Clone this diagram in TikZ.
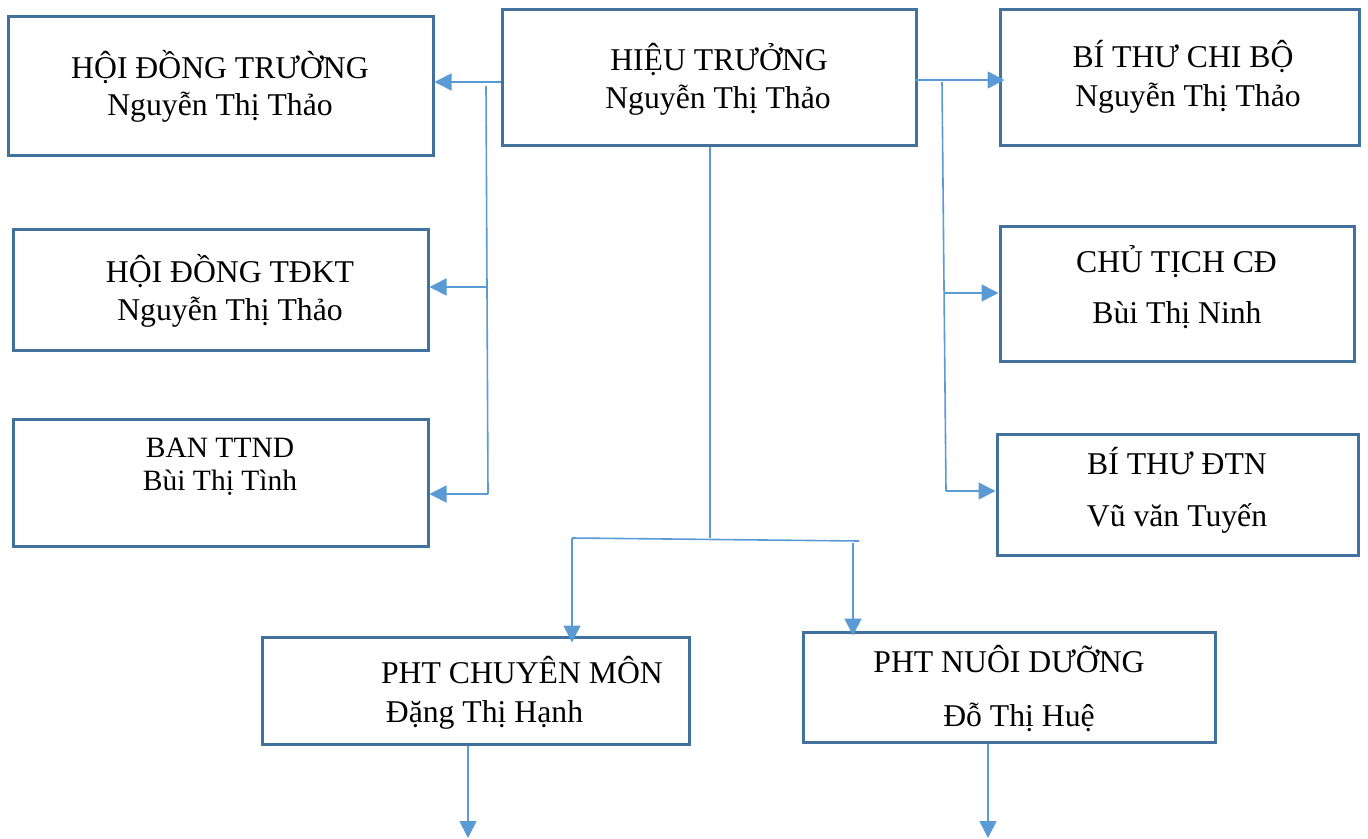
\documentclass[tikz,border=0pt]{standalone}
\usepackage{fontspec}
\setmainfont{Liberation Serif}
\usetikzlibrary{arrows.meta}
\definecolor{boxc}{HTML}{41719C}
\definecolor{linec}{HTML}{5B9BD5}
\tikzset{
  orgbox/.style={draw=boxc, line width=3pt, rectangle, inner sep=0pt, fill=white},
  txt/.style={anchor=base, inner sep=0pt, font=\fontsize{31.7}{38}\selectfont},
  smalltxt/.style={anchor=base, inner sep=0pt, font=\fontsize{29.5}{35}\selectfont},
  conn/.style={draw=linec, line width=1.6pt},
  arr/.style={conn, -{Triangle[length=17pt,width=17pt]}}
}
\begin{document}
\begin{tikzpicture}[x=1pt,y=-1pt]
\useasboundingbox (0,0) rectangle (1368,838);
\fill[white] (0,0) rectangle (1368,838);
% boxes
\node[orgbox, minimum width=425pt, minimum height=139pt] (hdt) at (220.5,85.5) {};
\node[orgbox, minimum width=414pt, minimum height=136pt] (ht) at (709,77) {};
\node[orgbox, minimum width=359pt, minimum height=136pt] (btcb) at (1179.5,77) {};
\node[orgbox, minimum width=415pt, minimum height=121pt] (hdtk) at (220.5,289.5) {};
\node[orgbox, minimum width=354pt, minimum height=135pt] (ctcd) at (1177,293.5) {};
\node[orgbox, minimum width=415pt, minimum height=127pt] (ttnd) at (220.5,482.5) {};
\node[orgbox, minimum width=361pt, minimum height=121pt] (btdtn) at (1177.5,494.5) {};
\node[orgbox, minimum width=427pt, minimum height=107pt] (phtcm) at (475.5,690.5) {};
\node[orgbox, minimum width=412pt, minimum height=110pt] (phtnd) at (1009,687) {};
% texts
\node[txt] (hdt1) at (220,78) {HỘI ĐỒNG TRƯỜNG};
\node[txt] (hdt2) at (220,115) {Nguyễn Thị Thảo};
\node[txt] (ht1) at (719,70) {HIỆU TRƯỞNG};
\node[txt] (ht2) at (718,108) {Nguyễn Thị Thảo};
\node[txt] (btcb1) at (1183,67) {BÍ THƯ CHI BỘ};
\node[txt] (btcb2) at (1188,106) {Nguyễn Thị Thảo};
\node[txt] (hdtk1) at (230,282) {HỘI ĐỒNG TĐKT};
\node[txt] (hdtk2) at (230,320) {Nguyễn Thị Thảo};
\node[txt] (ctcd1) at (1176.5,272) {CHỦ TỊCH CĐ};
\node[txt] (ctcd2) at (1177,323) {Bùi Thị Ninh};
\node[smalltxt] (ttnd1) at (220,457) {BAN TTND};
\node[smalltxt] (ttnd2) at (220,490) {Bùi Thị Tình};
\node[txt] (btdtn1) at (1177,474) {BÍ THƯ ĐTN};
\node[txt] (btdtn2) at (1177,526) {Vũ văn Tuyến};
\node[txt] (phtcm1) at (522,683) {PHT CHUYÊN MÔN};
\node[txt] (phtcm2) at (484.5,722) {Đặng Thị Hạnh};
\node[txt] (phtnd1) at (1009,672) {PHT NUÔI DƯỠNG};
\node[txt] (phtnd2) at (1019,726) {Đỗ Thị Huệ};
% bus coordinates
\coordinate (Lt) at (486,86);
\coordinate (Lb) at (488,494);
\coordinate (Rt) at (942,82);
\coordinate (Rb) at (946,491);
\coordinate (Bj) at (710,538);
\coordinate (Bl) at (572,538);
\coordinate (Br) at (859,541);
\coordinate (Brd) at (853,543);
\coordinate (E1) at (468,838);
\coordinate (E2) at (988,838);
% left side
\draw[arr] (ht.west |- 0,82) -- (hdt.east |- 0,82);
\draw[conn] (Lt) -- (Lb);
\draw[arr] (487,287) -- (hdtk.east |- 0,287);
\draw[arr] (Lb) -- (ttnd.east |- Lb);
% right side
\draw[arr] ([xshift=-3pt]ht.east |- 0,80) -- ([xshift=6pt]btcb.west |- 0,80);
\draw[conn] (Rt) -- (Rb);
\draw[arr] (945,293) -- (ctcd.west |- 0,293);
\draw[arr] (Rb) -- (btdtn.west |- Rb);
% bottom
\draw[conn] (ht.south -| Bj) -- (Bj);
\draw[conn] (Bl) -- (Br);
\draw[arr] (Bl) -- ([yshift=-7pt]phtcm.north -| Bl);
\draw[arr] (Brd) -- ([yshift=-5pt]phtnd.north -| Brd);
\draw[arr] (phtcm.south -| E1) -- (E1);
\draw[arr] (phtnd.south -| E2) -- (E2);
\end{tikzpicture}
\end{document}
